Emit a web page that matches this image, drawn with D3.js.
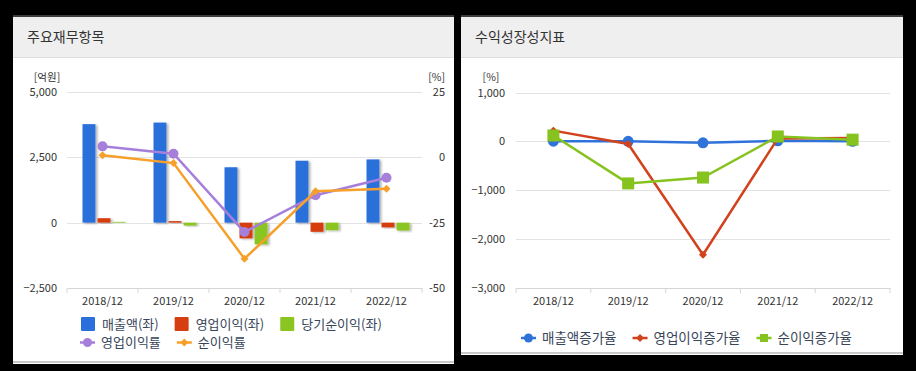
<!DOCTYPE html>
<html>
<head>
<meta charset="utf-8">
<script src="https://cdn.jsdelivr.net/npm/d3@7"></script>
<style>
  body { margin: 0; background: #000; }
  svg { display: block; font-family: "Noto Sans CJK KR", "Noto Sans", sans-serif; }
</style>
</head>
<body>
<svg id="chart" width="916" height="371"></svg>
<script>
// data
var years = ["2018/12", "2019/12", "2020/12", "2021/12", "2022/12"];

// 주요재무항목 (억원, left axis)
var revenue   = [3770, 3830, 2120, 2370, 2420];
var opIncome  = [170, 60, -600, -350, -180];
var netIncome = [30, -110, -830, -290, -300];
// (%, right axis)
var opMargin  = [4.2, 1.4, -28.6, -14.5, -7.8];
var netMargin = [0.8, -2.2, -38.8, -13.0, -12.0];
var leftTicks  = [-2500, 0, 2500, 5000];
var rightTicks = [-50, -25, 0, 25];

// 수익성장성지표 (%)
var revGrowth = [5, 2, -30, 12, 2];
var opGrowth  = [220, -53, -2320, 60, 70];
var netGrowth = [120, -860, -740, 100, 35];
var growthTicks = [-3000, -2000, -1000, 0, 1000];

var C = {
  blue: "#2a6fdb", red: "#d63d10", green: "#8bc521",
  purple: "#a67fdb", orange: "#f6a02b",
  grid: "#e3e3e3", text: "#333", legend: "#38465a"
};

var svg = d3.select("#chart");
svg.append("rect").attr("width", 916).attr("height", 371).attr("fill", "#000");

var defs = svg.append("defs");
var f = defs.append("filter").attr("id", "shadow")
  .attr("x", "-30%").attr("y", "-30%").attr("width", "180%").attr("height", "160%");
f.append("feDropShadow").attr("dx", 2).attr("dy", 1).attr("stdDeviation", 1)
  .attr("flood-color", "#000").attr("flood-opacity", 0.3);

function panel(x0, x1, bottom, title) {
  var g = svg.append("g");
  g.append("rect").attr("x", x0).attr("y", 15).attr("width", x1 - x0).attr("height", bottom - 15).attr("fill", "#fff");
  g.append("rect").attr("x", x0).attr("y", 17).attr("width", x1 - x0).attr("height", 40).attr("fill", "#efefef");
  g.append("rect").attr("x", x0).attr("y", 15).attr("width", x1 - x0).attr("height", 2).attr("fill", "#3c3c3c");
  g.append("line").attr("x1", x0).attr("x2", x1).attr("y1", 57.5).attr("y2", 57.5).attr("stroke", "#dedede");
  g.append("rect").attr("x", x0).attr("y", bottom - 3).attr("width", x1 - x0).attr("height", 2).attr("fill", "#c8c8c8");
  g.append("text").attr("x", x0 + 14).attr("y", 42).attr("font-size", 14).attr("fill", C.text).text(title);
  return g;
}

function grid(g, y, ticks, x0, x1) {
  g.selectAll(null).data(ticks).enter().append("line")
    .attr("x1", x0).attr("x2", x1)
    .attr("y1", function (d) { return Math.round(y(d)) + 0.5; })
    .attr("y2", function (d) { return Math.round(y(d)) + 0.5; })
    .attr("stroke", C.grid);
}

function xAxis(g, x, y0) {
  var ax = g.append("g").attr("transform", "translate(0," + y0 + ")")
    .call(d3.axisBottom(x).tickSize(0).tickPadding(9));
  ax.select(".domain").attr("stroke", "#d6d6d6");
  ax.selectAll("text").attr("font-size", 11).attr("fill", C.text).attr("font-family", "Noto Sans CJK KR");
  var r = x.range();
  var edges = x.domain().map(function (d) { return x(d); }).concat([r[1]]);
  g.selectAll(null).data(edges).enter().append("line")
    .attr("x1", function (d) { return d; }).attr("x2", function (d) { return d; })
    .attr("y1", y0).attr("y2", y0 + 5).attr("stroke", "#d6d6d6");
}

function marker(sel, shape, color, size) {
  if (shape === "circle") {
    sel.append("circle").attr("r", size).attr("fill", color);
  } else if (shape === "diamond") {
    sel.append("path").attr("d", d3.symbol(d3.symbolDiamond2, size * size * 2)()).attr("fill", color);
  } else {
    sel.append("rect").attr("x", -size).attr("y", -size).attr("width", size * 2).attr("height", size * 2).attr("fill", color);
  }
}

function drawLine(g, x, y, vals, color, shape, size) {
  var pts = vals.map(function (v, i) { return [x(years[i]) + x.bandwidth() / 2, y(v)]; });
  g.append("path").attr("d", d3.line()(pts)).attr("fill", "none")
    .attr("stroke", color).attr("stroke-width", 2.5);
  g.selectAll(null).data(pts).enter().append("g")
    .attr("transform", function (p) { return "translate(" + p[0] + "," + p[1] + ")"; })
    .each(function () { marker(d3.select(this), shape, color, size); });
}

function legendRow(g, items, x0, yc, fs) {
  var cx = x0;
  items.forEach(function (it) {
    var m = g.append("g").attr("transform", "translate(" + cx + "," + yc + ")");
    if (it.type === "box") {
      m.append("rect").attr("x", 0).attr("y", -7).attr("width", 14).attr("height", 14).attr("rx", 1).attr("fill", it.color);
      cx += 21;
    } else {
      m.append("line").attr("x1", 0).attr("x2", 15).attr("stroke", it.color).attr("stroke-width", 2.5);
      var mm = m.append("g").attr("transform", "translate(7.5,0)");
      marker(mm, it.type, it.color, it.type === "square" ? 4 : 4.5);
      cx += 21;
    }
    var t = g.append("text").attr("x", cx).attr("y", yc + 4.5).attr("font-size", fs)
      .attr("fill", C.legend).text(it.label);
    cx += t.node().getComputedTextLength() + 16;
  });
}

// ---------- left panel ----------
var L = panel(13, 454, 364, "주요재무항목");
var xL = d3.scaleBand().domain(years).range([67, 422]);
var yL = d3.scaleLinear().domain([-2500, 5000]).range([288, 92]);
var yR = d3.scaleLinear().domain([-50, 25]).range([288, 92]);

grid(L, yL, leftTicks.filter(function (d) { return d !== -2500; }), 67, 422);
xAxis(L, xL, 288);

L.selectAll(null).data(leftTicks).enter().append("text")
  .attr("x", 57).attr("y", function (d) { return yL(d) + 4; })
  .attr("text-anchor", "end").attr("font-size", 11).attr("fill", C.text)
  .text(function (d) { return d3.format(",")(d); });
L.selectAll(null).data(rightTicks).enter().append("text")
  .attr("x", 445).attr("y", function (d) { return yR(d) + 4; })
  .attr("text-anchor", "end").attr("font-size", 11).attr("fill", C.text)
  .text(function (d) { return d; });
L.append("text").attr("x", 47).attr("y", 81).attr("text-anchor", "middle").attr("font-size", 10.5).attr("fill", C.text).text("[억원]");
L.append("text").attr("x", 445).attr("y", 81).attr("text-anchor", "end").attr("font-size", 10.5).attr("fill", C.text).text("[%]");

var barSeries = [
  { vals: revenue, color: C.blue },
  { vals: opIncome, color: C.red },
  { vals: netIncome, color: C.green }
];
var xSub = d3.scaleBand().domain([0, 1, 2]).range([-20, 23]).paddingInner(0.14);
barSeries.forEach(function (s, k) {
  L.selectAll(null).data(s.vals).enter().append("rect")
    .attr("x", function (d, i) { return xL(years[i]) + xL.bandwidth() / 2 + xSub(k); })
    .attr("width", xSub.bandwidth())
    .attr("y", function (d) { return yL(Math.max(0, d)); })
    .attr("height", function (d) { return Math.abs(yL(d) - yL(0)); })
    .attr("fill", s.color)
    .attr("filter", "url(#shadow)");
});

drawLine(L, xL, yR, opMargin, C.purple, "circle", 5);
drawLine(L, xL, yR, netMargin, C.orange, "diamond", 4.5);

legendRow(L, [
  { type: "box", color: C.blue, label: "매출액(좌)" },
  { type: "box", color: C.red, label: "영업이익(좌)" },
  { type: "box", color: C.green, label: "당기순이익(좌)" }
], 81, 324, 13);
legendRow(L, [
  { type: "circle", color: C.purple, label: "영업이익률" },
  { type: "diamond", color: C.orange, label: "순이익률" }
], 80, 342.5, 13);

// ---------- right panel ----------
var R = panel(461, 903, 355, "수익성장성지표");
var xG = d3.scaleBand().domain(years).range([516, 890]);
var yG = d3.scaleLinear().domain([-3000, 1000]).range([288, 92.5]);

grid(R, yG, growthTicks.filter(function (d) { return d !== -3000; }), 516, 890);
xAxis(R, xG, 288);
R.selectAll(null).data(growthTicks).enter().append("text")
  .attr("x", 505).attr("y", function (d) { return yG(d) + 4; })
  .attr("text-anchor", "end").attr("font-size", 11).attr("fill", C.text)
  .text(function (d) { return d3.format(",")(d); });
R.append("text").attr("x", 491).attr("y", 81).attr("text-anchor", "middle").attr("font-size", 10.5).attr("fill", C.text).text("[%]");

drawLine(R, xG, yG, revGrowth, "#2f72da", "circle", 5.5);
drawLine(R, xG, yG, opGrowth, "#d2421c", "diamond", 4.5);
drawLine(R, xG, yG, netGrowth, "#86c31f", "square", 6);

legendRow(R, [
  { type: "circle", color: "#2f72da", label: "매출액증가율" },
  { type: "diamond", color: "#d2421c", label: "영업이익증가율" },
  { type: "square", color: "#86c31f", label: "순이익증가율" }
], 521, 338, 13.5);
</script>
</body>
</html>
